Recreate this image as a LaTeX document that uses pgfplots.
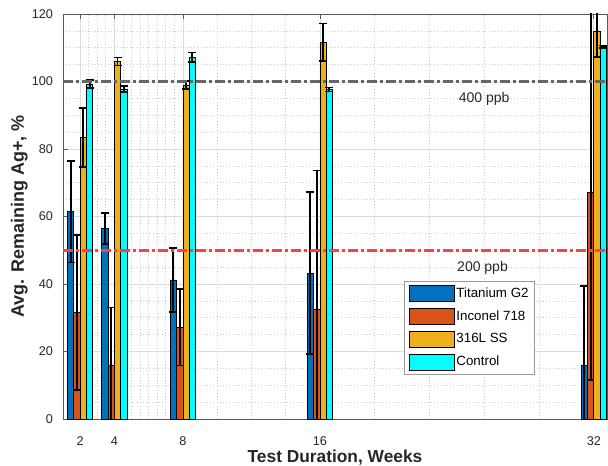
\documentclass[border=0pt]{standalone}
\usepackage{pgfplots}
\pgfplotsset{compat=1.18}
\usepackage{pgfplotstable}
\usepackage{fontspec}
\setmainfont{Liberation Sans}

\definecolor{cTi}{RGB}{0,114,189}
\definecolor{cIn}{RGB}{217,83,25}
\definecolor{cSS}{RGB}{237,177,32}
\definecolor{cCt}{RGB}{0,255,255}
\definecolor{cRed}{RGB}{255,64,64}
\definecolor{cGray}{RGB}{102,102,102}

\pgfplotstableread{
x y e
2 61.4 15.0
4 56.5 4.6
8 41.2 9.5
16 43.2 24.0
32 16.0 23.4
}\tiData
\pgfplotstableread{
x y e
2 31.6 23.0
4 15.8 17.2
8 27.2 11.4
16 32.5 41.1
32 67.2 55.6
}\inData
\pgfplotstableread{
x y e
2 83.4 8.8
4 105.9 1.2
8 99.0 1.2
16 111.6 5.6
32 115.0 7.7
}\ssData
\pgfplotstableread{
x y e
2 99.2 1.2
4 97.8 0.9
8 107.2 1.4
16 97.6 0.6
32 110.3 0.4
}\ctData

\pgfplotsset{
  mybar/.style={
    ybar, bar width=0.37, bar shift=0, draw=black, line width=0.5pt,
    legend image code/.code={\draw[##1, line width=0.5pt] (0pt,-6pt) rectangle (33.75pt,6pt);},
    error bars/y dir=both, error bars/y explicit,
    error bars/error bar style={line width=1.4pt, draw=black},
    error bars/error mark options={rotate=90, line width=1.2pt, draw=black, mark size=3pt},
  },
}

\begin{document}
\begin{tikzpicture}
\begin{axis}[
  name=ax,
  scale only axis,
  width=408pt, height=303.75pt,
  xmin=1, xmax=32.77, ymin=0, ymax=120,
  xtick={2,4,8,16,32},
  ytick={0,20,40,60,80,100,120},
  minor xtick={2.5,3,3.5,4.5,5,5.5,6,6.5,7,7.5,10,12,14,19.2,22.4,25.6,28.8},
  minor ytick={5,10,15,25,30,35,45,50,55,65,70,75,85,90,95,105,110,115},
  grid=both,
  major grid style={black!14, line width=0.5pt},
  minor grid style={black!20, dotted, line width=0.5pt},
  tick align=inside,
  major tick length=3.5pt,
  minor tick length=0pt,
  tick style={black!65, line width=0.5pt},
  axis line style={black!65, line width=0.6pt},
  /pgf/number format/assume math mode=true,
  ticklabel style={font=\fontsize{9.5}{11}\selectfont, text=black!85},
  xticklabel style={yshift=-9.5pt},
  yticklabel style={xshift=-4pt},
  xlabel={\textbf{Test Duration, Weeks}},
  xlabel style={at={(axis description cs:0.5,0)}, anchor=base, yshift=-32.25pt, font=\fontsize{13}{15}\selectfont, text=black!85},
  ylabel={\textbf{Avg. Remaining Ag+, \%}},
  ylabel style={at={(axis description cs:-0.0717,0.5)}, anchor=base, font=\fontsize{13.5}{15}\selectfont, text=black!85},
  legend cell align=left,
  legend style={at={(axis description cs:0.6274,0.3407)}, anchor=north west,
    draw=black!40, fill=white, line width=0.5pt,
    font=\fontsize{10}{12}\selectfont,
    nodes={inner sep=1.6pt}, row sep=4.6pt, inner xsep=3pt, inner ysep=3pt},
]
\addplot[mybar, fill=cTi] table[x expr=\thisrow{x}-0.555, y=y, y error=e] {\tiData};
\addlegendentry{Titanium G2}
\addplot[mybar, fill=cIn] table[x expr=\thisrow{x}-0.185, y=y, y error=e] {\inData};
\addlegendentry{Inconel 718}
\addplot[mybar, fill=cSS] table[x expr=\thisrow{x}+0.185, y=y, y error=e] {\ssData};
\addlegendentry{316L SS}
\addplot[mybar, fill=cCt] table[x expr=\thisrow{x}+0.555, y=y, y error=e] {\ctData};
\addlegendentry{Control}

\addplot[forget plot, cGray, line width=2.4pt, dash pattern=on 7.5pt off 2.25pt on 2.25pt off 2.25pt]
  coordinates {(1,100) (32.77,100)};
\addplot[forget plot, cRed, line width=2.4pt, dash pattern=on 7.5pt off 2.25pt on 2.25pt off 2.25pt]
  coordinates {(1,50) (32.77,50)};

\node[font=\fontsize{10.5}{12}\selectfont, text=black!85] at (axis cs:25.6,94.8) {400 ppb};
\node[font=\fontsize{10.5}{12}\selectfont, text=black!85] at (axis cs:25.5,44.7) {200 ppb};
\end{axis}
\pgfresetboundingbox
\path ([shift={(-47.25pt,-34.5pt)}]ax.south west) rectangle ([shift={(0.75pt,10.5pt)}]ax.north east);
\end{tikzpicture}
\end{document}
